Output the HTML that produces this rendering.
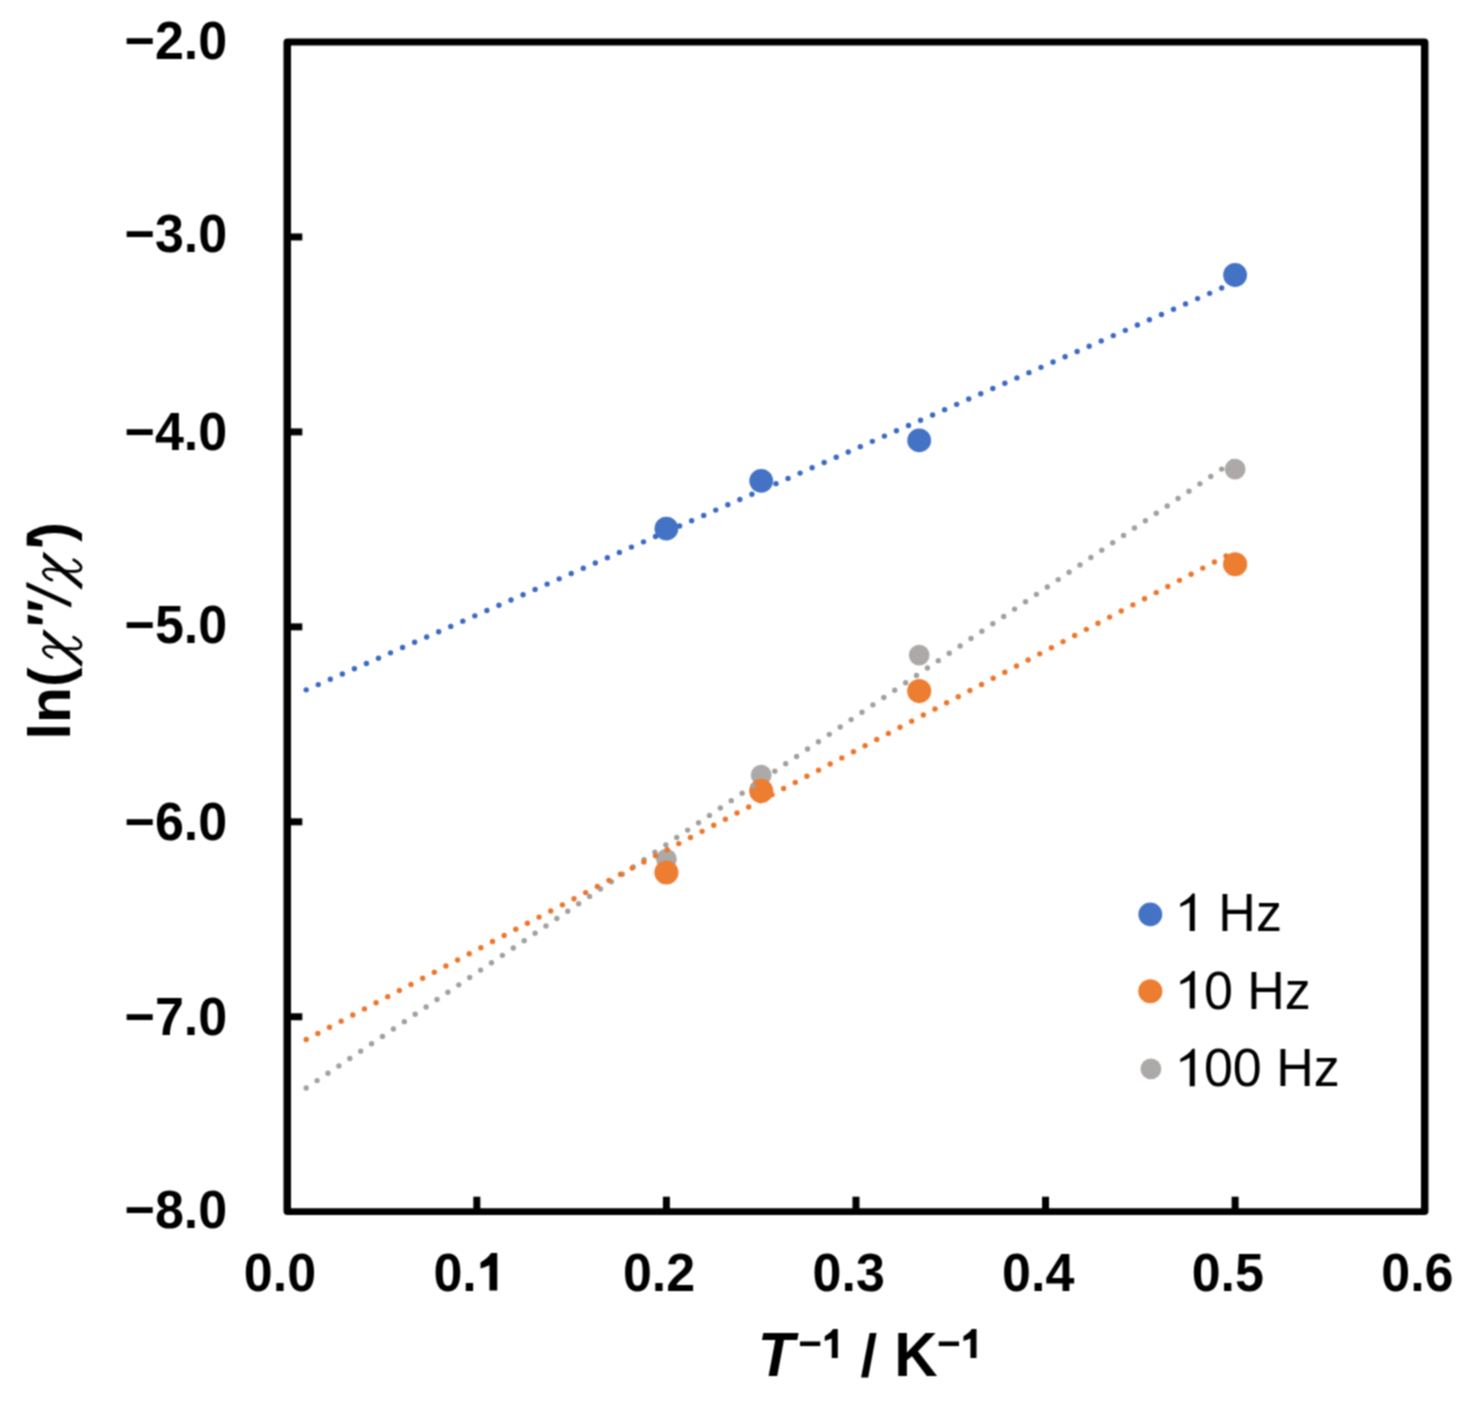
<!DOCTYPE html>
<html><head><meta charset="utf-8"><style>
html,body{margin:0;padding:0;background:#fff;}
body{width:1472px;height:1404px;overflow:hidden;}
svg{display:block;}
#w{width:1472px;height:1404px;}
text{font-family:"Liberation Sans",sans-serif;}
</style></head><body>
<div id="w"><svg width="1472" height="1404" viewBox="0 0 1472 1404">
<defs><filter id="soft" filterUnits="userSpaceOnUse" x="0" y="0" width="1472" height="1404" color-interpolation-filters="sRGB"><feConvolveMatrix order="3" kernelMatrix="1 2 1 2 4 2 1 2 1" divisor="16" edgeMode="duplicate"/></filter></defs>
<g filter="url(#soft)">
<rect width="1472" height="1404" fill="#fff"/>

<circle cx="666.4" cy="859.1" r="10.4" fill="#ADA9A8"/>
<circle cx="761.2" cy="775.2" r="10.4" fill="#ADA9A8"/>
<circle cx="919.2" cy="655.1" r="10.4" fill="#ADA9A8"/>
<circle cx="1235.1" cy="469.1" r="10.4" fill="#ADA9A8"/>
<circle cx="666.4" cy="872.5" r="12.05" fill="#ED7D31"/>
<circle cx="761.2" cy="790.9" r="12.05" fill="#ED7D31"/>
<circle cx="919.2" cy="691.1" r="12.05" fill="#ED7D31"/>
<circle cx="1235.1" cy="564.3" r="12.05" fill="#ED7D31"/>
<circle cx="666.4" cy="528.7" r="11.9" fill="#4472C4"/>
<circle cx="761.2" cy="480.8" r="11.9" fill="#4472C4"/>
<circle cx="919.2" cy="440.4" r="11.9" fill="#4472C4"/>
<circle cx="1235.1" cy="275.0" r="11.9" fill="#4472C4"/>
<mask id="m_blue" maskUnits="userSpaceOnUse" x="0" y="0" width="1472" height="1404"><rect width="1472" height="1404" fill="#fff"/><circle cx="666.4" cy="528.7" r="11.30" fill="#000"/><circle cx="761.2" cy="480.8" r="11.30" fill="#000"/><circle cx="919.2" cy="440.4" r="11.30" fill="#000"/><circle cx="1235.1" cy="275.0" r="11.30" fill="#000"/></mask>
<line mask="url(#m_blue)" x1="306.21" y1="689.87" x2="1235.12" y2="282.14" stroke="#3A68C2" stroke-width="5.4" stroke-linecap="round" stroke-dasharray="0 13.155"/>
<mask id="m_gray" maskUnits="userSpaceOnUse" x="0" y="0" width="1472" height="1404"><rect width="1472" height="1404" fill="#fff"/><circle cx="666.4" cy="859.1" r="9.80" fill="#000"/><circle cx="761.2" cy="775.2" r="9.80" fill="#000"/><circle cx="919.2" cy="655.1" r="9.80" fill="#000"/><circle cx="1235.1" cy="469.1" r="9.80" fill="#000"/></mask>
<line mask="url(#m_gray)" x1="306.21" y1="1087.98" x2="1235.12" y2="460.01" stroke="#A29F9E" stroke-width="5.4" stroke-linecap="round" stroke-dasharray="0 13.155"/>
<mask id="m_orange" maskUnits="userSpaceOnUse" x="0" y="0" width="1472" height="1404"><rect width="1472" height="1404" fill="#fff"/><circle cx="666.4" cy="872.5" r="11.45" fill="#000"/><circle cx="761.2" cy="790.9" r="11.45" fill="#000"/><circle cx="919.2" cy="691.1" r="11.45" fill="#000"/><circle cx="1235.1" cy="564.3" r="11.45" fill="#000"/></mask>
<line mask="url(#m_orange)" x1="306.21" y1="1039.52" x2="1235.12" y2="551.11" stroke="#EB752A" stroke-width="5.4" stroke-linecap="round" stroke-dasharray="0 13.155"/>
<path fill-rule="evenodd" fill="#000" d="M287.50,38.60H1424.45A4,4 0 0 1 1428.45,42.60V1211.10A4,4 0 0 1 1424.45,1215.10H287.50A4,4 0 0 1 283.50,1211.10V42.60A4,4 0 0 1 287.50,38.60Z M291.00,45.40V1208.30H1420.95V45.40Z"/>
<line x1="287.25" y1="236.95" x2="302.3" y2="236.95" stroke="#000" stroke-width="7.0"/>
<line x1="287.25" y1="431.90" x2="302.3" y2="431.90" stroke="#000" stroke-width="7.0"/>
<line x1="287.25" y1="626.85" x2="302.3" y2="626.85" stroke="#000" stroke-width="7.0"/>
<line x1="287.25" y1="821.80" x2="302.3" y2="821.80" stroke="#000" stroke-width="7.0"/>
<line x1="287.25" y1="1016.75" x2="302.3" y2="1016.75" stroke="#000" stroke-width="7.0"/>
<line x1="476.83" y1="1211.6999999999998" x2="476.83" y2="1196.7" stroke="#000" stroke-width="7.0"/>
<line x1="666.40" y1="1211.6999999999998" x2="666.40" y2="1196.7" stroke="#000" stroke-width="7.0"/>
<line x1="855.98" y1="1211.6999999999998" x2="855.98" y2="1196.7" stroke="#000" stroke-width="7.0"/>
<line x1="1045.55" y1="1211.6999999999998" x2="1045.55" y2="1196.7" stroke="#000" stroke-width="7.0"/>
<line x1="1235.12" y1="1211.6999999999998" x2="1235.12" y2="1196.7" stroke="#000" stroke-width="7.0"/>
<g font-weight="bold">
<text transform="translate(227.20,58.70) scale(1,1.03)" font-size="52" text-anchor="end">−2.0</text>
<text transform="translate(227.20,252.40) scale(1,1.03)" font-size="52" text-anchor="end">−3.0</text>
<text transform="translate(227.20,449.80) scale(1,1.03)" font-size="52" text-anchor="end">−4.0</text>
<text transform="translate(227.20,642.65) scale(1,1.03)" font-size="52" text-anchor="end">−5.0</text>
<text transform="translate(227.20,840.40) scale(1,1.03)" font-size="52" text-anchor="end">−6.0</text>
<text transform="translate(227.20,1034.80) scale(1,1.03)" font-size="52" text-anchor="end">−7.0</text>
<text transform="translate(227.20,1227.70) scale(1,1.03)" font-size="52" text-anchor="end">−8.0</text>
<text transform="translate(243.81,1290.50) scale(1,1.03)" font-size="52">0.0</text>
<text transform="translate(433.39,1290.50) scale(1,1.03)" font-size="52">0.</text>
<path transform="translate(476.75,1290.50) scale(0.05200,0.05356)" d="M244,0L394,0L394,-700L275,-700C240,-640 160,-575 72,-525L72,-411C135,-430 195,-452 244,-472Z"/>
<text transform="translate(622.96,1290.50) scale(1,1.03)" font-size="52">0.2</text>
<text transform="translate(812.54,1290.50) scale(1,1.03)" font-size="52">0.3</text>
<text transform="translate(1002.11,1290.50) scale(1,1.03)" font-size="52">0.4</text>
<text transform="translate(1191.68,1290.50) scale(1,1.03)" font-size="52">0.5</text>
<text transform="translate(1381.26,1290.50) scale(1,1.03)" font-size="52">0.6</text>
<text transform="translate(757.70,1376.00) scale(1,1.04)" font-size="60"><tspan font-style="italic">T</tspan></text>
<text transform="translate(798.20,1358.00) scale(1,1.04)" font-size="40.5">−</text>
<path transform="translate(821.85,1358.00) scale(0.04050,0.04131)" d="M244,0L394,0L394,-700L275,-700C240,-640 160,-575 72,-525L72,-411C135,-430 195,-452 244,-472Z"/>
<text transform="translate(860.40,1376.00) scale(1,1.0)" font-size="60">/</text>
<text transform="translate(894.20,1376.00) scale(1,1.04)" font-size="60">K</text>
<text transform="translate(936.90,1358.00) scale(1,1.04)" font-size="40.5">−</text>
<path transform="translate(960.55,1358.00) scale(0.04050,0.04131)" d="M244,0L394,0L394,-700L275,-700C240,-640 160,-575 72,-525L72,-411C135,-430 195,-452 244,-472Z"/>
</g>
<g transform="translate(70,735) rotate(-90)">
<text x="-4.4" y="0" font-size="59" font-weight="bold">ln(</text>
<g transform="translate(0,0)"><path d="M100.3,-27.2L106.0,-26.6L73.3,12.5L67.9,11.8Z"/><path d="M97.8,3.6C96.8,5.4 94.5,8.6 92.8,10C91.6,11 90.5,11.3 90,11.1C88.8,10.9 87.8,10.4 87.5,10C86.8,9.2 86.4,8.4 86.4,7.2C86.2,5.6 86.2,4.5 86.25,3.6C86.3,1 86.3,-0.5 86.4,-1.7C86.7,-4 86.8,-5.5 87,-7.1C87.2,-9 87.3,-10.6 87.5,-12.4C87.8,-14.5 88,-16 88.2,-17.8C88.4,-19.5 88.5,-21 88.4,-22C88.3,-23.5 88,-24.5 87.5,-25.2C87,-26 86.4,-26.5 85.7,-26.7C84.8,-26.7 84,-26.4 83.2,-25.9C82.3,-25.2 81.5,-24.5 80.7,-23.8C79.8,-22.8 79.2,-21.6 78.6,-20.6C78.2,-19.8 77.8,-18.9 77.5,-18.1" fill="none" stroke="#000" stroke-width="2.7" stroke-linecap="round"/></g>
<g transform="translate(77.4,0)"><path d="M100.3,-27.2L106.0,-26.6L73.3,12.5L67.9,11.8Z"/><path d="M97.8,3.6C96.8,5.4 94.5,8.6 92.8,10C91.6,11 90.5,11.3 90,11.1C88.8,10.9 87.8,10.4 87.5,10C86.8,9.2 86.4,8.4 86.4,7.2C86.2,5.6 86.2,4.5 86.25,3.6C86.3,1 86.3,-0.5 86.4,-1.7C86.7,-4 86.8,-5.5 87,-7.1C87.2,-9 87.3,-10.6 87.5,-12.4C87.8,-14.5 88,-16 88.2,-17.8C88.4,-19.5 88.5,-21 88.4,-22C88.3,-23.5 88,-24.5 87.5,-25.2C87,-26 86.4,-26.5 85.7,-26.7C84.8,-26.7 84,-26.4 83.2,-25.9C82.3,-25.2 81.5,-24.5 80.7,-23.8C79.8,-22.8 79.2,-21.6 78.6,-20.6C78.2,-19.8 77.8,-18.9 77.5,-18.1" fill="none" stroke="#000" stroke-width="2.7" stroke-linecap="round"/></g>
<path d="M111.6,-42.3L120.6,-42.3L115.9,-27.4L110.7,-27.4Z M126.1,-42.3L134.7,-42.3L130,-27.4L124.8,-27.4Z"/><path d="M148,-43.6L153,-43.6L132.5,1.3L127.4,1.3Z"/><path d="M189.6,-43.3L198.8,-43.3L194.5,-27.6L188.6,-27.6Z"/>
<text x="193.25" y="0" font-size="59" font-weight="bold">)</text>
</g>
<circle cx="1150.3" cy="914.3" r="11.9" fill="#4472C4"/>
<path transform="translate(1175.00,931.00) scale(0.05200,0.05434)" d="M283,0L381,0L381,-690L334,-690C305,-640 225,-570 102,-506L102,-442C170,-470 240,-500 283,-524Z"/>
<text transform="translate(1203.91,931.00) scale(1,1.045)" font-size="52"> Hz</text>
<circle cx="1150.3" cy="991.3" r="12.05" fill="#ED7D31"/>
<path transform="translate(1175.00,1008.60) scale(0.05200,0.05434)" d="M283,0L381,0L381,-690L334,-690C305,-640 225,-570 102,-506L102,-442C170,-470 240,-500 283,-524Z"/>
<text transform="translate(1203.91,1008.60) scale(1,1.045)" font-size="52">0 Hz</text>
<circle cx="1150.9" cy="1068.9" r="10.4" fill="#ADA9A8"/>
<path transform="translate(1175.00,1086.30) scale(0.05200,0.05434)" d="M283,0L381,0L381,-690L334,-690C305,-640 225,-570 102,-506L102,-442C170,-470 240,-500 283,-524Z"/>
<text transform="translate(1203.91,1086.30) scale(1,1.045)" font-size="52">00 Hz</text>
</g></svg></div></body></html>
